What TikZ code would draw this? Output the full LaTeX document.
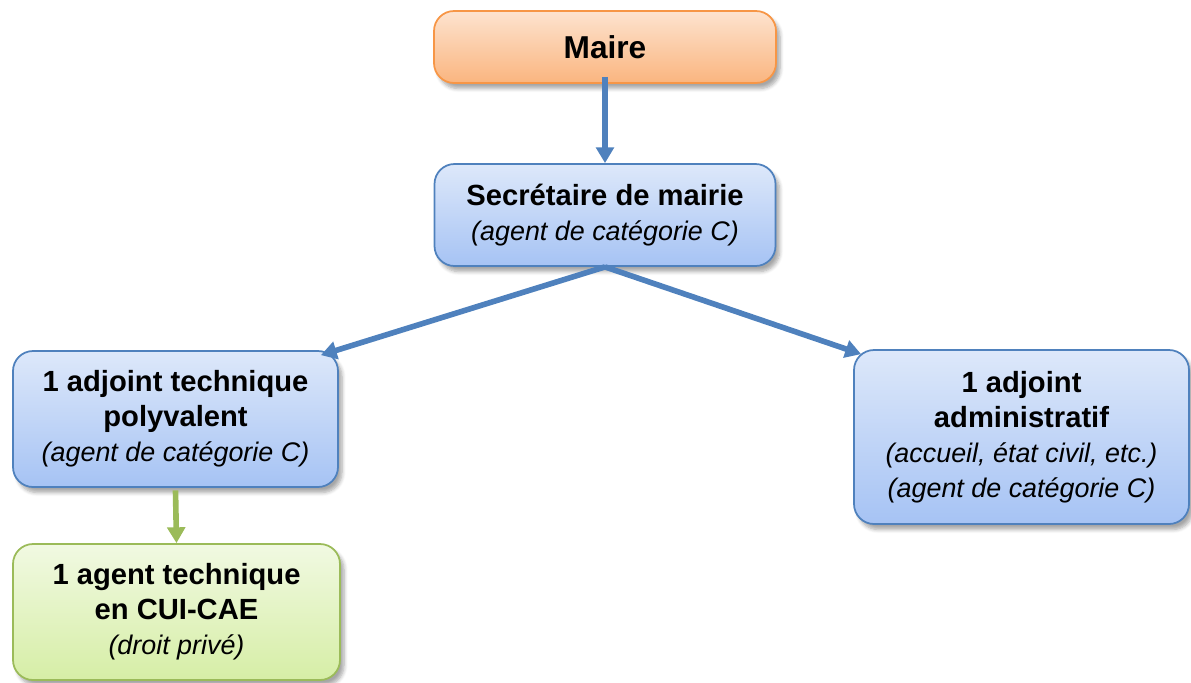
\documentclass[tikz,border=0pt]{standalone}
\usepackage{fontspec}
\setmainfont{Liberation Sans}
\usetikzlibrary{arrows.meta, shadows.blur, calc}

\definecolor{orgline}{HTML}{F79646}
\definecolor{orgtop}{HTML}{FDE3CF}
\definecolor{orgbot}{HTML}{FAB57F}
\definecolor{blueline}{HTML}{4F81BD}
\definecolor{bluetop}{HTML}{DDE8FA}
\definecolor{bluebot}{HTML}{A6C3F4}
\definecolor{greenline}{HTML}{9BBB59}
\definecolor{greentop}{HTML}{F1F9E2}
\definecolor{greenbot}{HTML}{D6EEA6}

\newcommand{\subline}[1]{{\fontsize{15.3}{20}\selectfont\mdseries\itshape #1}}

\begin{document}
\begin{tikzpicture}[
    box/.style={rounded corners=0.4cm, line width=1pt, align=center, inner sep=0pt,
      font=\fontsize{16.6}{20}\selectfont\bfseries,
      blur shadow={shadow xshift=0.08cm, shadow yshift=-0.11cm, shadow opacity=35, shadow blur steps=6}},
    orangebox/.style={box, draw=orgline, top color=orgtop, bottom color=orgbot},
    bluebox/.style={box, draw=blueline, top color=bluetop, bottom color=bluebot},
    greenbox/.style={box, draw=greenline, top color=greentop, bottom color=greenbot},
    link/.style={line width=3.2pt, -{Triangle[length=9pt,width=10pt]}}
  ]
  \useasboundingbox (0,0) rectangle (23.82,-13.64);
  % Boxes
  \node[orangebox, minimum width=6.84cm, minimum height=1.44cm, font=\fontsize{18}{21}\selectfont\bfseries]
    (maire) at (12.1,-0.94) {Maire};
  \node[bluebox, minimum width=6.82cm, minimum height=2.04cm]
    (secr) at (12.1,-4.3) {Secrétaire de mairie\\\subline{(agent de catégorie C)}};
  \node[bluebox, minimum width=6.5cm, minimum height=2.72cm]
    (tech) at (3.51,-8.38) {1 adjoint technique\\polyvalent\\\subline{(agent de catégorie C)}};
  \node[bluebox, minimum width=6.7cm, minimum height=3.48cm]
    (admin) at (20.43,-8.74) {1 adjoint\\administratif\\\subline{(accueil, état civil, etc.)}\\\subline{(agent de catégorie C)}};
  \node[greenbox, minimum width=6.54cm, minimum height=2.72cm]
    (cui) at (3.53,-12.24) {1 agent technique\\en CUI-CAE\\\subline{(droit privé)}};
  % Arrows
  \draw[link, blueline] ($(maire.south)+(0,0.14)$) -- (secr.north);
  \draw[link, blueline] (secr.south) -- ($(tech.north east)+(-0.36,-0.1)$);
  \draw[link, blueline] (secr.south) -- ($(admin.north west)+(0.16,-0.1)$);
  \draw[link, greenline] ($(tech.south)+(0,-0.05)$) -- (cui.north);
\end{tikzpicture}
\end{document}
